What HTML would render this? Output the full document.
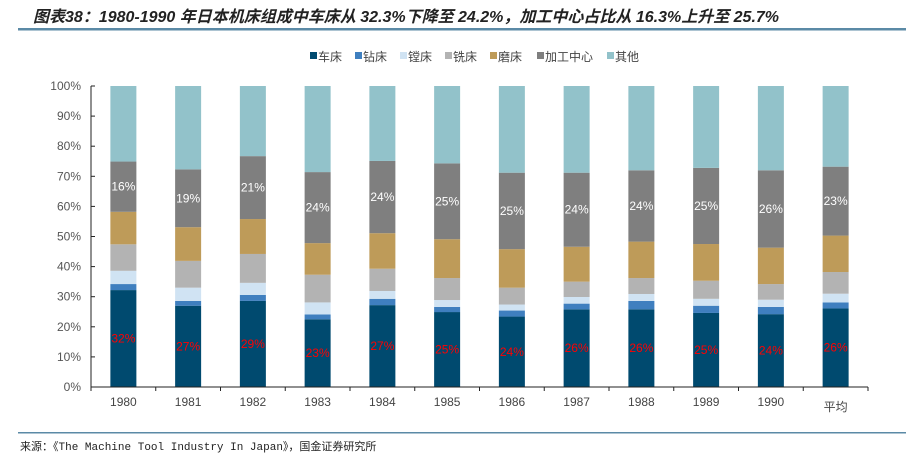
<!DOCTYPE html>
<html><head><meta charset="utf-8"><style>
body{margin:0;background:#fff;width:910px;height:460px;overflow:hidden;font-family:"Liberation Sans","Noto Sans CJK SC",sans-serif}
</style></head><body>
<svg id="c" width="910" height="460" xmlns="http://www.w3.org/2000/svg">
<text x="33" y="22" font-size="16" font-weight="bold" font-style="italic" fill="#222" font-family="'Liberation Sans','Noto Sans CJK SC',sans-serif">图表38：1980-1990 年日本机床组成中车床从 32.3%下降至 24.2%，加工中心占比从 16.3%上升至 25.7%</text>
<rect x="18" y="28" width="888" height="2.5" fill="#5b8aa6"/>
<rect x="18" y="432" width="888" height="1.5" fill="#5b8aa6"/>
<text x="20" y="450" font-size="11" fill="#222" font-family="'Liberation Mono','Noto Sans CJK SC',monospace">来源：《The Machine Tool Industry In Japan》，国金证券研究所</text>
<g id="legend"></g>
<g id="plot"></g>
</svg>
<script>
const categories=["1980","1981","1982","1983","1984","1985","1986","1987","1988","1989","1990","平均"];
const seriesNames=["车床","钻床","镗床","铣床","磨床","加工中心","其他"];
const lathe=[32.2,27.0,28.6,22.5,27.2,24.9,23.4,25.8,25.8,24.6,24.2,26.1];
const drill=[2.0,1.6,2.0,1.6,2.1,1.7,2.0,1.9,2.8,2.4,2.4,2.0];
const boring=[4.4,4.4,4.0,4.0,2.6,2.3,2.0,2.2,2.3,2.3,2.4,2.9];
const milling=[8.8,8.9,9.6,9.2,7.4,7.3,5.6,5.1,5.3,6.0,5.2,7.2];
const grinding=[10.8,11.2,11.6,10.5,11.8,12.9,12.8,11.6,12.1,12.2,12.1,12.1];
const machining=[16.7,19.2,20.9,23.6,24.0,25.2,25.4,24.6,23.7,25.3,25.7,22.9];
const latheLabels=["32%","27%","29%","23%","27%","25%","24%","26%","26%","25%","24%","26%"];
const mcLabels=["16%","19%","21%","24%","24%","25%","25%","24%","24%","25%","26%","23%"];
const yTicks=[0,10,20,30,40,50,60,70,80,90,100];
const colors=["#004a6f","#3f7fbf","#d0e3f3","#b3b3b3","#be9b59","#7f7f7f","#92c2ca"];
const NS="http://www.w3.org/2000/svg";
const X0=91,X1=868,Y0=387,Y100=86,BW=26;
const slot=(X1-X0)/categories.length;
const y=v=>Y0-(Y100-Y0)*-v/100;
const xc=i=>X0+slot*(i+0.5);
function mk(t,a,p){const e=document.createElementNS(NS,t);for(const k in a)e.setAttribute(k,a[k]);p.appendChild(e);return e;}
const plot=document.getElementById('plot');
const others=categories.map((_,i)=>100-lathe[i]-drill[i]-boring[i]-milling[i]-grinding[i]-machining[i]);
const series=[lathe,drill,boring,milling,grinding,machining,others];
categories.forEach((c,i)=>{
  let acc=0;
  series.forEach((s,k)=>{
    const v=s[i];
    const r=mk('rect',{x:xc(i)-BW/2,y:y(acc+v),width:BW,height:y(acc)-y(acc+v),fill:colors[k]},plot);
    
    
    if(k===0){const t=mk('text',{x:xc(i),y:y(acc+v/2)+4,'font-size':12,fill:'#ff0000','text-anchor':'middle'},plot);t.textContent=latheLabels[i];
      
      }
    if(k===5){const t=mk('text',{x:xc(i),y:y(acc+v/2)+4,'font-size':12,fill:'#fff','text-anchor':'middle'},plot);t.textContent=mcLabels[i];
      
      }
    acc+=v;
  });
  const t=mk('text',{x:xc(i),y:i===11?411:406,'font-size':12,fill:'#444','text-anchor':'middle'},plot);t.textContent=c;
  
  
});
mk('line',{x1:X0,y1:Y100,x2:X0,y2:Y0,stroke:'#222','stroke-width':1},plot);
mk('line',{x1:X0,y1:Y0,x2:X1,y2:Y0,stroke:'#222','stroke-width':1},plot);
for(let i=0;i<=categories.length;i++){const xx=X0+slot*i;mk('line',{x1:xx,y1:Y0,x2:xx,y2:Y0+4,stroke:'#222'},plot);}
yTicks.forEach(v=>{
  mk('line',{x1:X0,y1:y(v),x2:X0+4,y2:y(v),stroke:'#222'},plot);
  const t=mk('text',{x:X0-10,y:y(v)+4,'font-size':12,fill:'#555','text-anchor':'end'},plot);t.textContent=v+'%';
  
  
});
const lg=document.getElementById('legend');
const lx=[310,355,400,445,490,537,607];
seriesNames.forEach((n,k)=>{
  mk('rect',{x:lx[k],y:52,width:7,height:7,fill:colors[k]},lg);
  const t=mk('text',{x:lx[k]+8,y:61,'font-size':12,fill:'#444'},lg);t.textContent=n;
  
  
});
</script>
</body></html>
